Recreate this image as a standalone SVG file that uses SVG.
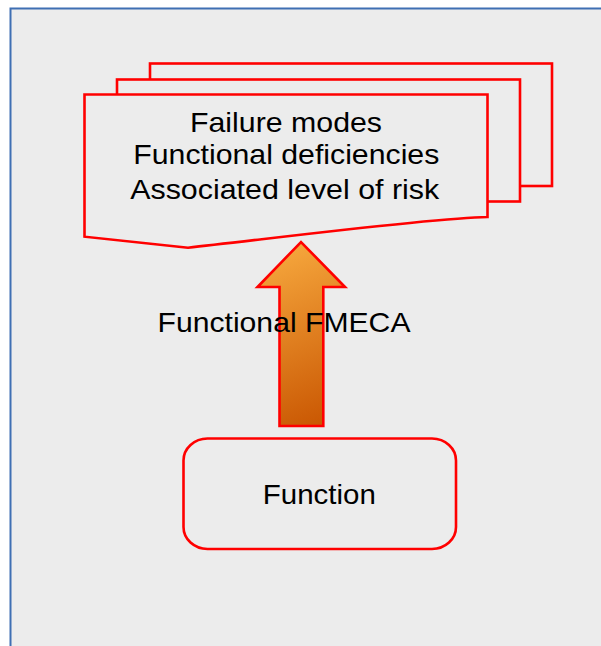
<svg xmlns="http://www.w3.org/2000/svg" width="601" height="646" viewBox="0 0 601 646">
  <defs>
    <linearGradient id="arrowFill" gradientUnits="userSpaceOnUse" x1="262" y1="245" x2="335" y2="428">
      <stop offset="0" stop-color="#f8ab40"/>
      <stop offset="1" stop-color="#c85400"/>
    </linearGradient>
    <style>
      .shape { fill: #ececec; stroke: #ff0000; stroke-width: 2.6; stroke-linejoin: miter; }
      .label { font-family: "Liberation Sans", Arial, sans-serif; font-size: 28.5px; fill: #000; text-anchor: middle; }
    </style>
  </defs>

  <!-- page background and frame -->
  <rect x="0" y="0" width="601" height="646" fill="#ffffff"/>
  <rect x="10.5" y="8.5" width="620" height="660" fill="#ececec" stroke="#3f6fb3" stroke-width="2"/>

  <!-- stacked output documents -->
  <g id="results">
    <rect class="shape" x="150" y="63.5" width="402" height="122.5"/>
    <rect class="shape" x="117" y="79.5" width="403" height="122"/>
    <path class="shape" d="M84.5,94.5 H487.5 V217 C430,218 260,240 188,247.7 L84.5,236.7 Z"/>
    <text class="label" x="286" y="131.7" textLength="192" lengthAdjust="spacingAndGlyphs">Failure modes</text>
    <text class="label" x="286.3" y="164.3" textLength="306" lengthAdjust="spacingAndGlyphs">Functional deficiencies</text>
    <text class="label" x="284.7" y="199.3" textLength="309" lengthAdjust="spacingAndGlyphs">Associated level of risk</text>
  </g>

  <!-- analysis step arrow -->
  <g id="connectors">
    <path d="M279.5,426 V287 H257.5 L301,242 L345,287 H323.3 V426 Z" fill="url(#arrowFill)" stroke="#ff0000" stroke-width="2.6" stroke-linejoin="miter"/>
  </g>

  <g id="fmeca-label">
    <text class="label" x="284" y="331.7" textLength="253" lengthAdjust="spacingAndGlyphs">Functional FMECA</text>
  </g>

  <!-- input function -->
  <g id="function">
    <rect class="shape" x="183.5" y="438.5" width="272.5" height="110.5" rx="24" ry="22"/>
    <text class="label" x="319.3" y="504.3" textLength="113" lengthAdjust="spacingAndGlyphs">Function</text>
  </g>
</svg>
